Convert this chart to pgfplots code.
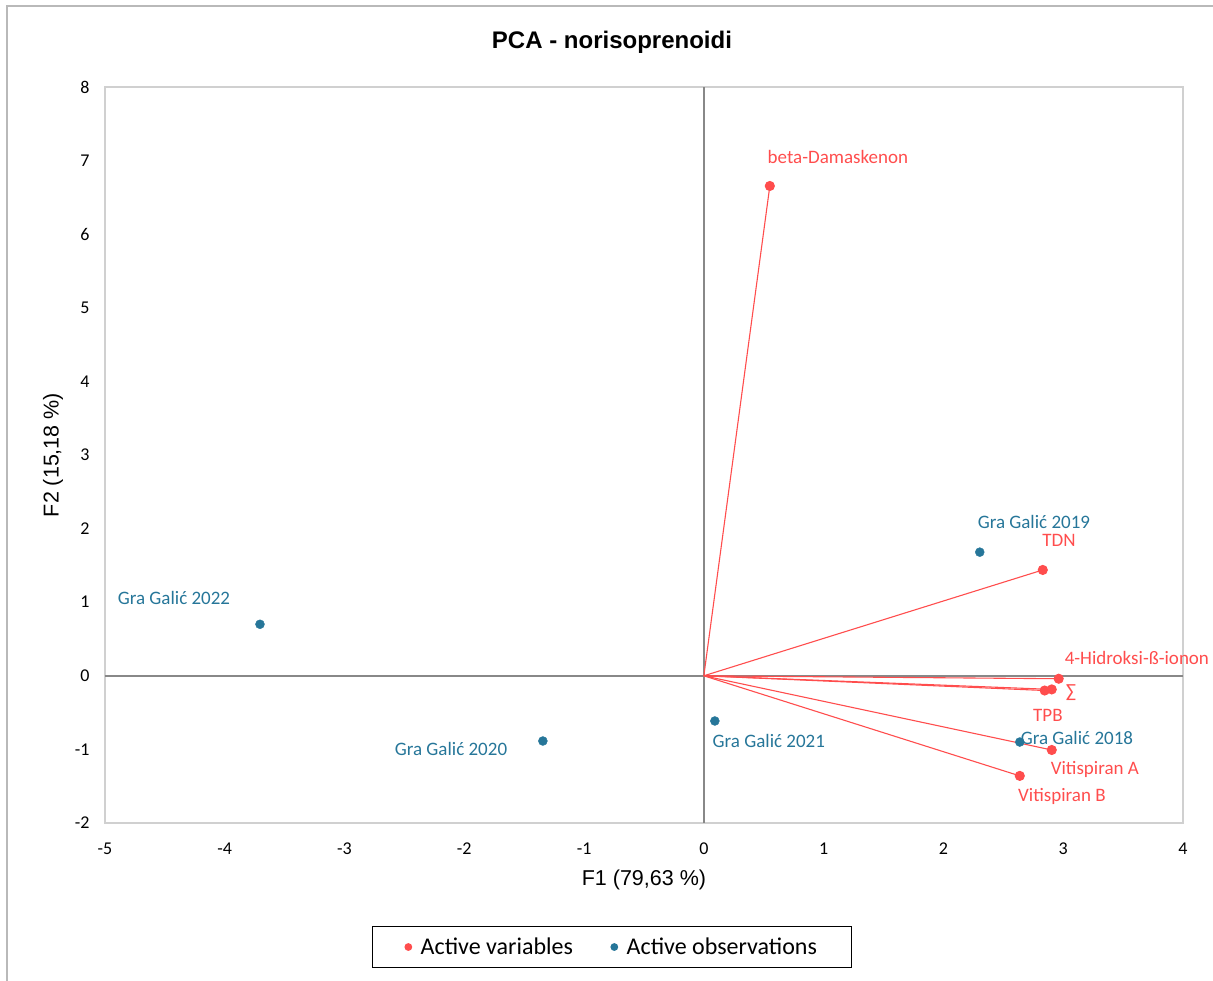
\documentclass[border=0pt]{standalone}
\usepackage{fontspec}
\setmainfont{Carlito}
\newfontfamily\arial{Liberation Sans}
\usepackage{pgfplots}
\pgfplotsset{compat=1.18}

\definecolor{varred}{RGB}{255,77,77}
\definecolor{obsblue}{RGB}{38,118,153}
\definecolor{framegray}{RGB}{208,208,208}
\definecolor{zerogray}{RGB}{136,136,136}

\begin{document}
\begin{tikzpicture}
\begin{axis}[
    name=pca,
    scale only axis,
    width=1078pt, height=736pt,
    xmin=-5, xmax=4, ymin=-2, ymax=8,
    xtick={-5,...,4}, ytick={-2,...,8},
    xticklabels={-5,-4,-3,-2,-1,0,1,2,3,4},
    yticklabels={-2,-1,0,1,2,3,4,5,6,7,8},
    major tick length=0pt,
    axis line style={framegray, line width=1.3pt},
    tick label style={font=\fontsize{18}{21}\selectfont},
    xticklabel style={yshift=-16pt},
    yticklabel style={xshift=-12pt},
    xlabel={\arial F1 (79,63 \%)},
    xlabel style={at={(rel axis cs:0.5,0)}, anchor=center, yshift=-57pt,
        font=\fontsize{21.5}{25}\selectfont},
    ylabel={\arial F2 (15,18 \%)},
    ylabel style={at={(rel axis cs:0,0.5)}, anchor=center, yshift=52pt,
        font=\fontsize{21.5}{25}\selectfont},
    title={\arial\bfseries PCA - norisoprenoidi},
    title style={at={(rel axis cs:0.5,1)}, anchor=center, yshift=39pt, xshift=-32pt,
        font=\fontsize{24}{28}\selectfont},
    legend columns=2,
    legend style={at={(0.4703,-0.1685)}, anchor=center, draw=black, line width=0.9pt,
        font=\fontsize{24}{28}\selectfont, inner xsep=32pt, inner ysep=9pt,
        /tikz/every odd column/.append style={column sep=7pt},
        /tikz/every even column/.append style={column sep=36pt}},
    legend image code/.code={\draw[#1] plot coordinates {(0.3cm,0cm)};},
    clip=false,
]
% zero lines with ticks on the vertical one
\draw[zerogray, line width=1.5pt] (axis cs:-5,0) -- (axis cs:4,0);
\draw[zerogray, line width=1.5pt] (axis cs:0,-2) -- (axis cs:0,8);
\pgfplotsinvokeforeach{-2,...,8}{\draw[zerogray, line width=1.3pt] (axis cs:0,#1) ++(-6pt,0) -- ++(12pt,0);}

\addlegendimage{only marks, mark=*, mark size=3.4pt, color=varred}
\addlegendentry{Active variables}
\addlegendimage{only marks, mark=*, mark size=3.4pt, color=obsblue}
\addlegendentry{Active observations}

% active variables: vectors from the origin
\pgfplotsset{vec/.style={varred, line width=1.1pt, mark=*, mark indices={2},
    mark size=4.5pt, mark options={fill=varred, draw=varred}, forget plot}}
\addplot[vec] coordinates {(0,0) (0.551,6.655)};
\addplot[vec] coordinates {(0,0) (2.830,1.438)};
\addplot[vec] coordinates {(0,0) (2.963,-0.040)};
\addplot[vec] coordinates {(0,0) (2.905,-0.185)};
\addplot[vec] coordinates {(0,0) (2.846,-0.200)};
\addplot[vec] coordinates {(0,0) (2.905,-1.008)};
\addplot[vec] coordinates {(0,0) (2.638,-1.360)};

% active observations
\addplot[only marks, mark=*, mark size=4.5pt, color=obsblue, forget plot] coordinates {
    (2.304,1.680) (-3.706,0.700) (-1.344,-0.886) (0.092,-0.614) (2.638,-0.900)};

% labels
\begin{scope}[every node/.style={font=\fontsize{19}{22}\selectfont}]
\node[text=varred] at (axis cs:1.119,7.049) {beta-Damaskenon};
\node[text=varred] at (axis cs:2.965,1.845) {TDN};
\node[text=varred] at (axis cs:3.616,0.242) {4-Hidroksi-ß-ionon};
\node[text=varred] at (axis cs:3.065,-0.234) {∑};
\node[text=varred] at (axis cs:2.873,-0.533) {TPB};
\node[text=varred] at (axis cs:3.265,-1.266) {Vitispiran A};
\node[text=varred] at (axis cs:2.990,-1.633) {Vitispiran B};
\node[text=obsblue] at (axis cs:2.756,2.090) {Gra Galić 2019};
\node[text=obsblue] at (axis cs:-4.424,1.057) {Gra Galić 2022};
\node[text=obsblue] at (axis cs:-2.111,-0.995) {Gra Galić 2020};
\node[text=obsblue] at (axis cs:0.543,-0.886) {Gra Galić 2021};
\node[text=obsblue] at (axis cs:3.115,-0.845) {Gra Galić 2018};
\end{scope}
\end{axis}
\pgfresetboundingbox
\useasboundingbox (-105pt,-158pt) rectangle (1108pt,823pt);
\draw[gray!55, line width=1.5pt] (-98pt,-158pt) -- (-98pt,817pt) -- (1108pt,817pt);
\end{tikzpicture}
\end{document}
